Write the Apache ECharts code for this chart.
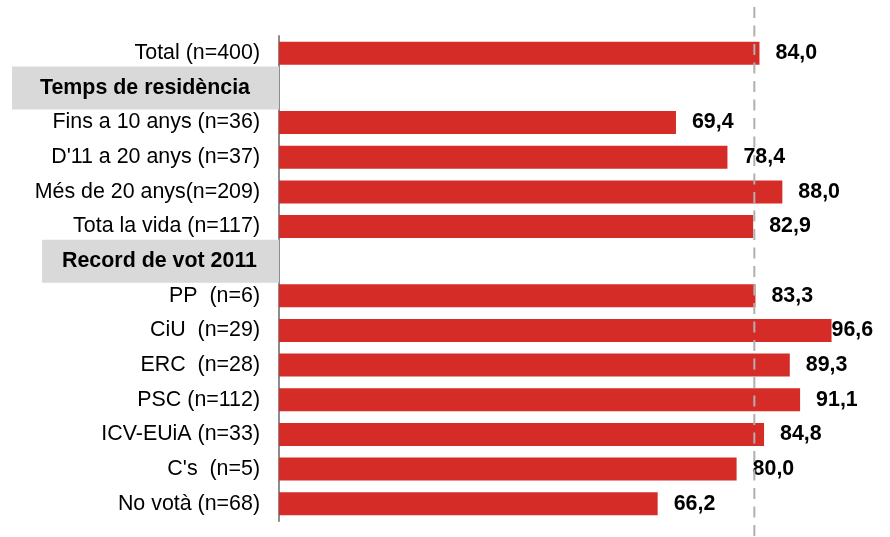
<!DOCTYPE html>
<html>
<head>
<meta charset="utf-8">
<script src="https://cdn.jsdelivr.net/npm/echarts@6/dist/echarts.min.js"></script>
<style>html,body{margin:0;padding:0;background:#fff;}#c{width:890px;height:537px;}</style>
</head>
<body>
<div id="c"></div>
<script>
var categories = ['Total (n=400)', 'Temps de residència', 'Fins a 10 anys (n=36)', "D'11 a 20 anys (n=37)", 'Més de 20 anys(n=209)', 'Tota la vida (n=117)', 'Record de vot 2011', 'PP  (n=6)', 'CiU  (n=29)', 'ERC  (n=28)', 'PSC (n=112)', 'ICV-EUiA (n=33)', "C's  (n=5)", 'No votà (n=68)'];
var values = [84.0, null, 69.4, 78.4, 88.0, 82.9, null, 83.3, 96.6, 89.3, 91.1, 84.8, 80.0, 66.2];
var headers = ['Temps de residència', 'Record de vot 2011'];
var refValue = 83.1;

var chart = echarts.init(document.getElementById('c'), null, {renderer: 'canvas'});
var FONT = '"Liberation Sans", Arial, sans-serif';
var FS = 21.4;
var LABEL_DIST = 16;
var LABEL_W = 44;

function buildOption(dataItems) {
  return {
    animation: false,
    backgroundColor: '#ffffff',
    grid: {left: 279, width: 572, top: 36, height: 485, containLabel: false},
    xAxis: {type: 'value', min: 0, max: 100, show: false},
    yAxis: {
      type: 'category', data: categories, inverse: true,
      axisLine: {show: true, lineStyle: {color: '#8c8c8c', width: 2}},
      axisTick: {show: false},
      splitLine: {show: false},
      axisLabel: {
        margin: 0,
        fontFamily: FONT, fontSize: FS, color: '#000',
        formatter: function (v) {
          var i = headers.indexOf(v);
          if (i === 0) return '{h1|' + v + '}';
          if (i === 1) return '{h2|' + v + '}';
          return '{n|' + v + '}';
        },
        rich: {
          n: {fontFamily: FONT, fontSize: FS, color: '#000', padding: [0, 19, 0, 0]},
          h1: {fontFamily: FONT, fontSize: FS, fontWeight: 'bold', color: '#000', backgroundColor: '#d9d9d9', lineHeight: 21, padding: [11, 29, 11, 28]},
          h2: {fontFamily: FONT, fontSize: FS, fontWeight: 'bold', color: '#000', backgroundColor: '#d9d9d9', lineHeight: 21, padding: [11, 22, 11, 20]}
        }
      }
    },
    series: [{
      type: 'bar',
      data: dataItems,
      barWidth: 23,
      itemStyle: {color: '#d52c28'},
      label: {
        show: true, position: 'right', distance: LABEL_DIST,
        fontFamily: FONT, fontSize: FS, fontWeight: 'bold', color: '#000',
        formatter: function (p) { return p.value == null ? '' : p.value.toFixed(1).replace('.', ','); }
      }
    }]
  };
}

chart.setOption(buildOption(values));
// labels that would run past the right edge are pulled back against the bar end
var items = values.map(function (v) {
  if (v == null) return {value: null};
  var end = chart.convertToPixel({xAxisIndex: 0}, v);
  var fits = end + LABEL_DIST + LABEL_W <= 882;
  return {value: v, label: {distance: fits ? LABEL_DIST : 0}};
});
chart.setOption(buildOption(items));
var px = chart.convertToPixel({xAxisIndex: 0}, refValue);
chart.setOption({
  graphic: [{
    type: 'line', z: 100,
    shape: {x1: px, y1: 7, x2: px, y2: 537},
    style: {stroke: '#b0b0b0', lineWidth: 2, lineDash: [11, 7.5]}
  }]
});
</script>
</body>
</html>
